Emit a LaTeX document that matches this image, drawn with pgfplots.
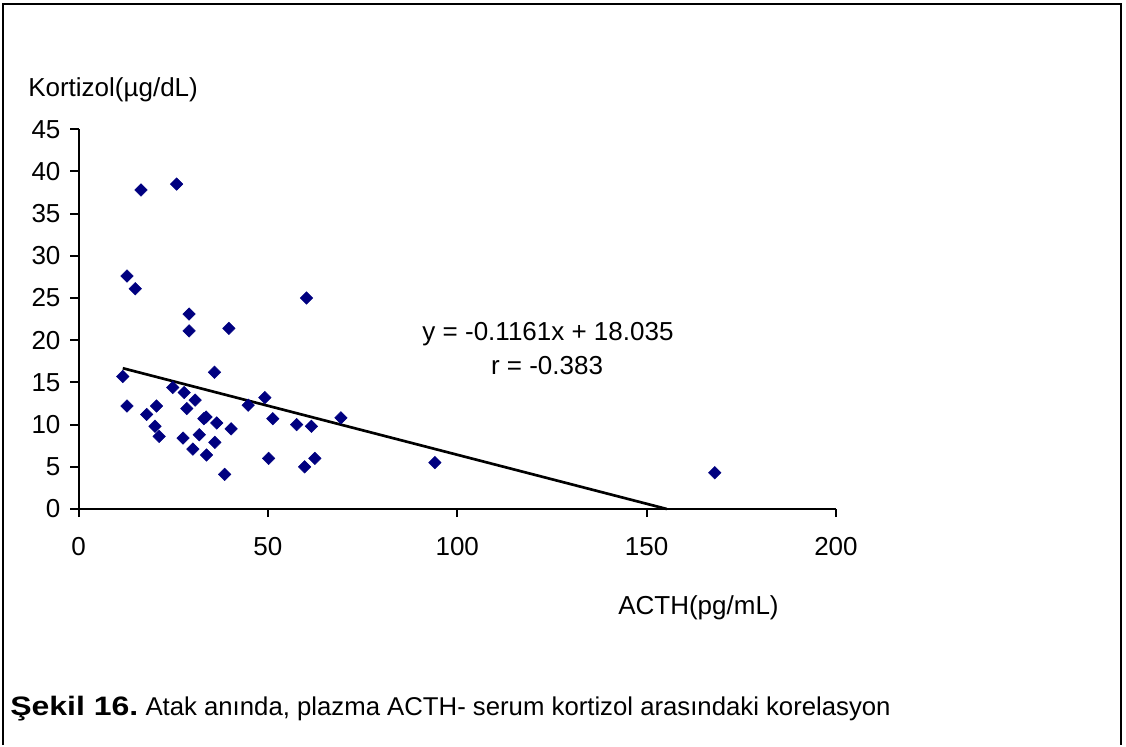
\documentclass[border=0pt]{standalone}
\usepackage{fontspec}
\setmainfont{Liberation Sans}
\usepackage{graphicx}
\usepackage{pgfplots}
\pgfplotsset{compat=1.18}
\definecolor{navy}{RGB}{0,0,128}
\begin{document}
\begin{tikzpicture}[x=0.75pt,y=0.75pt]
\path (0,0) rectangle (1126,743);
\draw[line width=1.5pt] (3,-2) -- (3,739) -- (1121,739) -- (1121,-2);
\begin{axis}[
  at={(58.875pt,175.5pt)}, anchor=south west,
  scale only axis, width=568.1pt, height=284.85pt,
  xmin=0, xmax=200, ymin=0, ymax=45,
  axis lines=left, axis line style={line width=1.5pt, -},
  xtick={0,50,...,200}, ytick={0,5,...,45},
  tick align=outside, major tick length=6pt,
  tick style={line width=1.5pt, black},
  ticklabel style={font=\fontsize{19.5}{19.5}\selectfont},
  yticklabel style={xshift=-4pt},
  xticklabel style={yshift=-12pt},
  /pgf/number format/assume math mode=true,
  clip=false,
]
\addplot[only marks, mark=square*, mark size=3.3pt, mark options={rotate=45, fill=navy, draw=navy}] coordinates {
(29.2,23.1) (29.2,21.1) (39.7,21.4) (60.2,25.0) (35.9,16.2) (11.7,15.7)
(24.9,14.4) (27.9,13.8) (30.8,12.9) (28.6,11.9) (12.8,12.2) (20.6,12.2)
(18.0,11.2) (44.8,12.3) (49.2,13.2) (33.7,10.9) (33.1,10.7) (36.5,10.2)
(51.3,10.7) (69.3,10.8) (20.2,9.8) (21.3,8.6) (40.3,9.5) (57.6,10.0)
(61.5,9.8) (27.6,8.4) (31.9,8.8) (30.2,7.1) (36.0,7.9) (33.8,6.4)
(50.2,6.0) (62.4,6.0) (59.7,5.0) (38.6,4.1) (16.5,37.8) (25.9,38.5)
(12.8,27.6) (15.0,26.1) (94.1,5.5) (168.0,4.3)
};
\addplot[black, line width=2pt] coordinates {(11.7,16.68) (155.34,0)};
\end{axis}
\node[anchor=base west, font=\fontsize{19.5}{19.5}\selectfont, inner sep=0pt] at (28,646) {Kortizol(µg/dL)};
\node[anchor=base west, font=\fontsize{19.5}{19.5}\selectfont, inner sep=0pt] at (618,129) {ACTH(pg/mL)};
\node[anchor=base, font=\fontsize{19.5}{19.5}\selectfont, inner sep=0pt] at (548,402.3) {y = -0.1161x + 18.035};
\node[anchor=base, font=\fontsize{19.5}{19.5}\selectfont, inner sep=0pt] at (547,368) {r = -0.383};
\node[anchor=base west, font=\fontsize{19.3}{19.3}\selectfont, inner sep=0pt] at (10,28) {\scalebox{1.2}[1]{\fontsize{20}{20}\selectfont\bfseries Şekil 16.} Atak anında, plazma ACTH- serum kortizol arasındaki korelasyon};
\end{tikzpicture}
\end{document}
